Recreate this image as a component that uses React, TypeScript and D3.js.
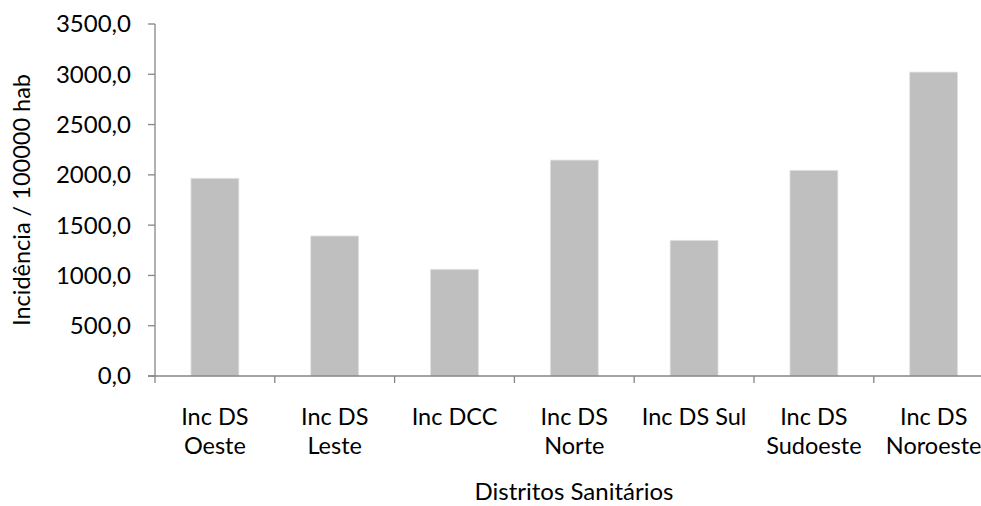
import React from 'react';
import * as d3 from 'd3';

// categorias (rótulos em duas linhas quando quebram no Excel)
const categories: string[][] = [
  ['Inc DS', 'Oeste'],
  ['Inc DS', 'Leste'],
  ['Inc DCC'],
  ['Inc DS', 'Norte'],
  ['Inc DS Sul'],
  ['Inc DS', 'Sudoeste'],
  ['Inc DS', 'Noroeste'],
];
const incidence: number[] = [1966, 1392, 1061, 2147, 1349, 2045, 3022];
const yTicks: number[] = [0, 500, 1000, 1500, 2000, 2500, 3000, 3500];

const WIDTH = 981;
const HEIGHT = 506;
const margin = { top: 24, left: 155, bottom: 130 };
const plotRight = 993.6; // o gráfico original está cortado à direita

const FONT = 'Lato, "Open Sans", sans-serif';
const AXIS = '#868686';
const FS = 23.5;

export default function App() {
  const keys = categories.map(c => c.join(' '));

  const x = d3
    .scaleBand<string>()
    .domain(keys)
    .range([margin.left, plotRight])
    .paddingInner(0.6)
    .paddingOuter(0.3);

  const y = d3
    .scaleLinear()
    .domain([0, 3500])
    .range([HEIGHT - margin.bottom, margin.top]);

  const gap = (x.step() - x.bandwidth()) / 2;
  const bounds = keys.map(k => (x(k) || 0) - gap);
  bounds.push((x(keys[keys.length - 1]) || 0) + x.bandwidth() + gap);

  const fmt = (v: number) => v.toFixed(1).replace('.', ',');
  const y0 = y(0);

  return (
    <svg
      width={WIDTH}
      height={HEIGHT}
      style={{ position: 'absolute', left: 0, top: 0, background: '#fff' }}
      fontFamily={FONT}
    >
      {/* barras */}
      {keys.map((k, i) => (
        <rect
          key={k}
          x={x(k)}
          y={y(incidence[i])}
          width={x.bandwidth()}
          height={y0 - y(incidence[i])}
          fill="#bfbfbf"
          stroke="#e2e2e2"
          strokeWidth={0.8}
        />
      ))}

      {/* eixo y */}
      <line x1={margin.left} x2={margin.left} y1={y(3500)} y2={y0} stroke={AXIS} strokeWidth={1.3} />
      {yTicks.map(t => (
        <g key={t}>
          <line x1={margin.left - 7} x2={margin.left} y1={y(t)} y2={y(t)} stroke={AXIS} strokeWidth={1.3} />
          <text
            x={margin.left - 24}
            y={y(t)}
            dy="0.35em"
            textAnchor="end"
            fontSize={24}
            fill="#000"
          >
            {fmt(t)}
          </text>
        </g>
      ))}

      {/* eixo x */}
      <line x1={margin.left - 7} x2={plotRight} y1={y0} y2={y0} stroke={AXIS} strokeWidth={1.3} />
      {bounds.map((b, i) => (
        <line key={i} x1={b} x2={b} y1={y0} y2={y0 + 7} stroke={AXIS} strokeWidth={1.3} />
      ))}
      {keys.map((k, i) => (
        <text
          key={k}
          x={(x(k) || 0) + x.bandwidth() / 2}
          y={y0 + 49}
          textAnchor="middle"
          fontSize={FS}
          fill="#000"
        >
          {categories[i].map((line, j) => (
            <tspan key={j} x={(x(k) || 0) + x.bandwidth() / 2} dy={j === 0 ? 0 : 29}>
              {line}
            </tspan>
          ))}
        </text>
      ))}

      {/* títulos */}
      <text
        transform={`translate(30,${(y(3500) + y0) / 2}) rotate(-90)`}
        textAnchor="middle"
        fontSize={FS}
        fill="#000"
      >
        Incidência / 100000 hab
      </text>
      <text x={574} y={500} textAnchor="middle" fontSize={FS + 0.5} fill="#000">
        Distritos Sanitários
      </text>
    </svg>
  );
}
